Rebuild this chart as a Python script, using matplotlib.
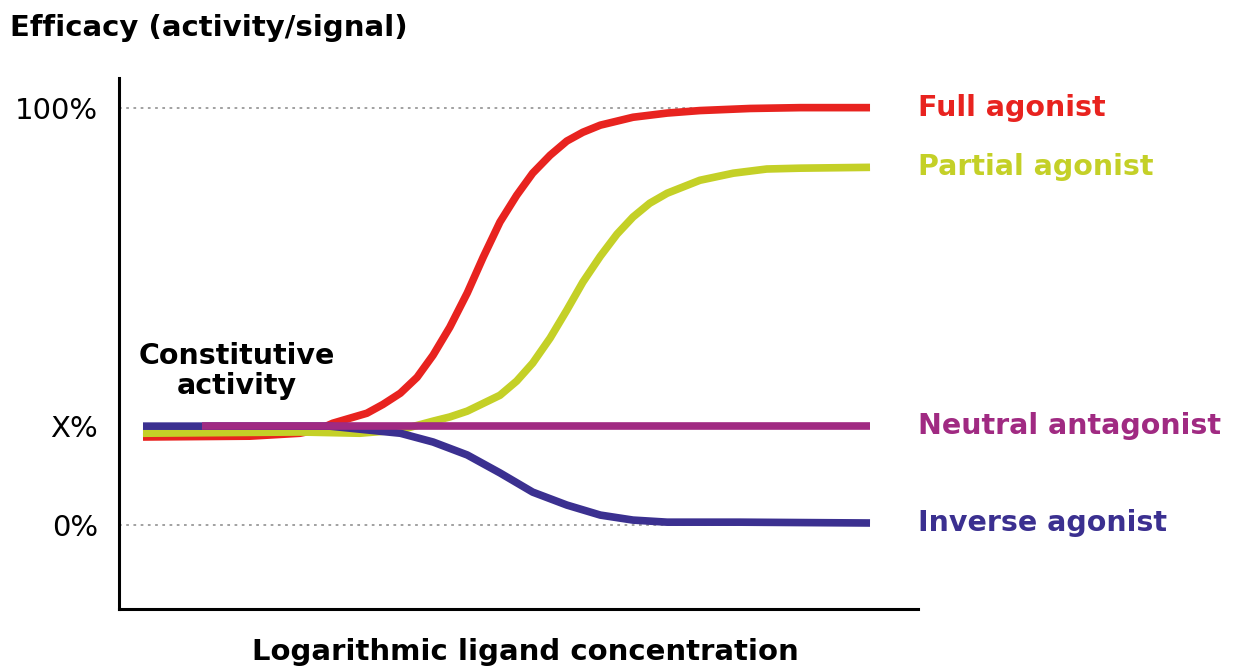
import matplotlib.pyplot as plt

# curve values (x: log concentration, arbitrary units; y: efficacy %)
full_x = [0, 1.47, 2.16, 2.43, 2.61, 3.08, 3.30, 3.54, 3.77, 3.99, 4.22, 4.46, 4.68, 4.91,
          5.14, 5.36, 5.60, 5.83, 6.05, 6.29, 6.74, 7.21, 7.66, 8.35, 9.04, 10]
full_y = [21.1, 21.3, 22.0, 23.0, 24.4, 26.8, 28.9, 31.6, 35.4, 40.7, 47.4, 55.6, 64.2, 72.6,
          79.0, 84.3, 88.6, 92.0, 94.1, 95.8, 97.7, 98.7, 99.3, 99.8, 100, 100]

partial_x = [0, 2.16, 2.98, 3.54, 3.99, 4.22, 4.46, 4.91, 5.14, 5.36, 5.60, 5.83, 6.05,
             6.29, 6.52, 6.74, 6.97, 7.21, 7.66, 8.12, 8.58, 9.04, 10]
partial_y = [22.0, 22.3, 22.0, 22.8, 24.9, 25.9, 27.3, 31.1, 34.5, 38.8, 44.8, 51.5, 58.2,
             64.4, 69.7, 73.8, 77.1, 79.5, 82.6, 84.3, 85.3, 85.5, 85.7]

neutral_x = [0.81, 10]
neutral_y = [23.7, 23.7]

inverse_x = [0, 2.57, 3.08, 3.54, 3.99, 4.46, 4.91, 5.36, 5.83, 6.29, 6.74, 7.21, 8.21, 10]
inverse_y = [23.7, 23.7, 22.8, 22.0, 19.9, 16.8, 12.5, 7.9, 4.8, 2.4, 1.2, 0.7, 0.7, 0.5]

constitutive = 23.7
tick_values = [100, constitutive, 0]
tick_labels = ['100%', 'X%', '0%']

series = [
    ('Full agonist', full_x, full_y, '#e8231f'),
    ('Partial agonist', partial_x, partial_y, '#c4d027'),
    ('Inverse agonist', inverse_x, inverse_y, '#3b3090'),
    ('Neutral antagonist', neutral_x, neutral_y, '#a02a82'),
]

fig = plt.figure(figsize=(12.34, 6.69), dpi=100)
ax = fig.add_axes([119 / 1234, 1 - 609 / 669, 799 / 1234, 531 / 669])

# dotted reference lines at 0% and 100%
for v in (0, 100):
    ax.plot([-0.33, 10], [v, v], color='#9a9a9a', lw=1.3,
            linestyle=(0, (1.5, 2.5)), zorder=1)

for name, xs, ys, col in series:
    ax.plot(xs, ys, color=col, lw=5.5, solid_capstyle='butt',
            solid_joinstyle='round', zorder=3)
    ax.text(1.0, ys[-1], name, transform=ax.get_yaxis_transform(),
            color=col, fontsize=20.5, fontweight='bold', va='center', ha='left')

ax.set_xlim(-0.33, 10.66)
ax.set_ylim(-20.1, 107.1)

ax.set_yticks(tick_values)
ax.set_yticklabels(tick_labels, fontsize=21)
ax.set_xticks([])
ax.tick_params(axis='y', length=0, pad=15)

ax.spines['top'].set_visible(False)
ax.spines['right'].set_visible(False)
ax.spines['left'].set_linewidth(2.2)
ax.spines['bottom'].set_linewidth(2.2)

ax.text(1.29, 36.9, 'Constitutive\nactivity', fontsize=20.5, fontweight='bold',
        ha='center', va='center', linespacing=1.1)

fig.text(10 / 1234, 1 - 28 / 669, 'Efficacy (activity/signal)', fontsize=21,
         fontweight='bold', va='center', ha='left')
fig.text(525 / 1234, 1 - 652 / 669, 'Logarithmic ligand concentration', fontsize=21,
         fontweight='bold', va='center', ha='center')

fig.savefig('out.png', dpi=100)
